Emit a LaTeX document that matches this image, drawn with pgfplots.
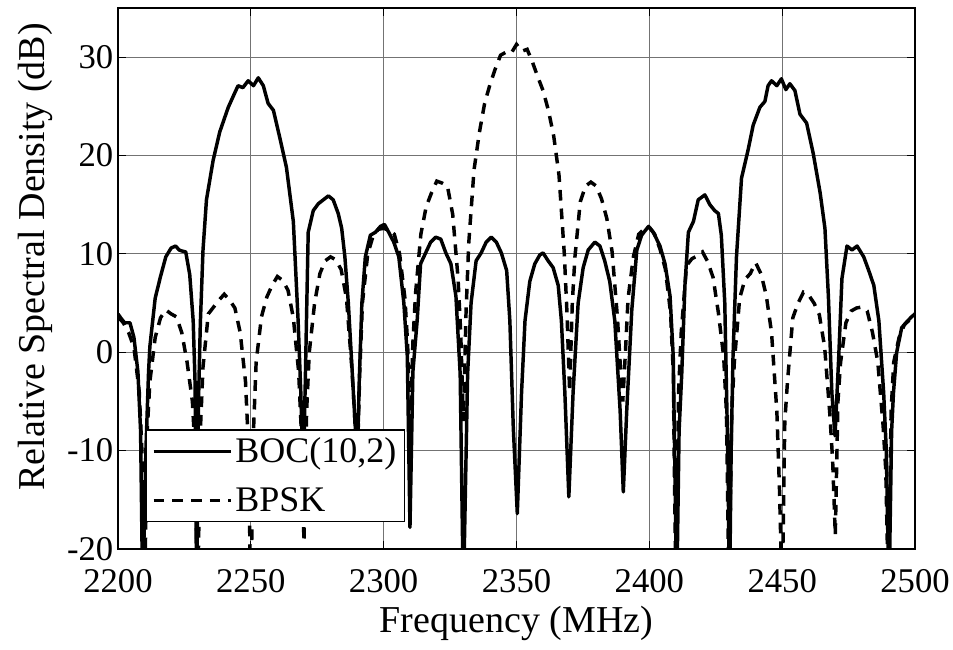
\documentclass[border=0pt]{standalone}
\usepackage{fontspec}
\setmainfont{Liberation Serif}
\usepackage{pgfplots}
\pgfplotsset{compat=1.18}
\begin{document}
\begin{tikzpicture}
\begin{axis}[
  scale only axis, width=597.75pt, height=405.75pt,
  xmin=2200, xmax=2500, ymin=-20, ymax=35,
  xtick={2200,2250,2300,2350,2400,2450,2500},
  ytick={-20,-10,0,10,20,30},
  grid=major,
  major grid style={line width=0.8pt, color=black!55},
  axis line style={line width=1.2pt, black},
  tick align=inside, major tick length=6pt,
  tick style={black, line width=0.8pt},
  /pgf/number format/assume math mode=true,
  /pgf/number format/1000 sep={},
  ticklabel style={font=\fontsize{26}{26}\selectfont},
  xticklabel style={yshift=-12pt},
  xlabel={Frequency (MHz)},
  ylabel={Relative Spectral Density (dB)},
  xlabel style={font=\fontsize{28.5}{30}\selectfont, at={(axis description cs:0.5,-0.137)}, anchor=center},
  ylabel style={font=\fontsize{28.5}{30}\selectfont, at={(axis description cs:-0.104,0.54)}, anchor=center, rotate=0},
  legend style={at={(0.0351,0.0499)}, anchor=south west, draw=black, line width=1pt, fill=white,
    font=\fontsize{27}{30}\selectfont, inner xsep=4pt, inner ysep=4pt, row sep=13pt},
  legend cell align=left,
  legend image code/.code={\draw[#1] (0pt,0pt) -- (58pt,0pt);},
]
\addplot[black, line width=2.6pt, line join=round] coordinates {
(2200,3.9)(2201,3.5)(2202.5,3.0)(2204.5,3.0)(2206,1.5)(2207.5,-2)(2208.5,-8)(2209.3,-25)
(2210.5,-10)(2211.5,-2)(2212,0.6)(2214,5.5)(2216,7.7)(2218,9.7)(2220,10.6)(2221.7,10.8)
(2223,10.4)(2224,10.3)(2225.5,10.2)(2227,7.9)(2228.3,3.2)(2229,-3)(2229.6,-25)
(2230.3,-5)(2231,3)(2232,10.4)(2233.3,15.5)(2235.8,19.5)(2238.3,22.4)(2241.5,24.9)
(2244,26.4)(2245.2,27.1)(2247,26.9)(2249,27.6)(2251,27.1)(2252.8,27.9)(2254.7,27.1)
(2256.5,25.3)(2258.5,24.6)(2261,21.7)(2263.4,18.8)(2266,13.3)(2267.8,3.2)(2268.8,-4)
(2269.7,-13)(2270.5,-3)(2271,4)(2271.6,12.2)(2273.5,14.4)(2275.4,15.1)(2277.3,15.5)
(2279.2,15.9)(2281,15.5)(2282.9,14.1)(2284.2,12.6)(2285.4,9.7)(2286.7,5.0)(2288.6,-4.1)
(2289.4,-8)(2290,-12)(2290.8,-3)(2291.8,5.0)(2293.1,9.7)(2295,11.9)(2296.9,12.2)
(2298.8,12.8)(2300.3,13.0)(2301.9,12.2)(2303.8,11.2)(2305.7,9.7)(2307.6,5.0)(2308.9,-0.4)
(2309.9,-17.8)(2311,-2)(2312.6,3.2)(2313.9,9.0)(2315.8,10.1)(2317.7,11.2)(2319.6,11.7)
(2321.5,11.5)(2323.4,10.1)(2325.3,9.0)(2327.2,5.7)(2328.8,-2.2)(2330,-25)(2331.6,-2.2)
(2332.9,5.0)(2334.8,9.3)(2336.7,10.1)(2338.6,11.2)(2340.5,11.7)(2342.4,11.2)(2344.3,10.1)
(2346.3,8.3)(2347.5,3.2)(2348.8,-7.7)(2350.3,-16.4)(2351.9,-4.1)(2353.2,3.2)(2355,7.2)
(2356.9,9.0)(2358.8,9.9)(2360,10.1)(2361.9,9.3)(2363.8,8.6)(2365.7,6.8)(2366.9,3.2)
(2368.2,-4.1)(2369.7,-14.7)(2371.3,-4.1)(2373.2,5.0)(2375.1,8.6)(2377,10.4)(2379.5,11.2)
(2381.4,10.8)(2383.2,9.3)(2385.1,7.2)(2387,3.2)(2389,-5.9)(2390.2,-14.2)(2391.5,-5.9)
(2393.4,4.3)(2395.3,10.4)(2397.1,11.9)(2399.7,12.8)(2401.5,12.2)(2404,10.8)(2405.9,9.0)
(2407.8,5.7)(2409,-0.4)(2410.3,-25)(2411.2,-8)(2412.2,-2.2)(2413.4,6.8)(2414.7,12.2)
(2416.6,13.3)(2418.4,15.5)(2420.9,16.0)(2422.8,15.0)(2424.6,14.4)(2426,14.1)(2427.1,11.9)
(2428.4,5.0)(2429.6,-11.3)(2430.2,-25)(2430.8,-10)(2431.5,-0.4)(2432.8,9.7)(2434.7,17.7)
(2437.2,20.6)(2439.1,23.1)(2441.6,24.9)(2443.5,25.5)(2444.7,27.1)(2446,27.6)(2448,27.1)
(2449.7,27.8)(2451.4,26.7)(2452.9,27.3)(2454.8,26.6)(2456.7,24.2)(2459.2,23.3)(2461.7,20.2)
(2464.3,16.2)(2466.1,12.6)(2467.4,5.7)(2468.7,-4.1)(2469.9,-8.5)(2471.3,-0.4)(2472.5,7.5)
(2474.4,10.8)(2476.3,10.4)(2478.2,10.8)(2480.7,9.7)(2482.6,8.3)(2484.5,6.8)(2486.4,3.2)
(2488.2,-4.1)(2489.2,-10)(2490.2,-25)(2491.2,-8)(2491.9,-4.1)(2493.1,0)(2495,2.5)
(2496.9,3.1)(2498.7,3.6)(2500,3.9)
};
\addlegendentry{BOC(10,2)}
\addplot[black, line width=2.6pt, dash pattern=on 8pt off 6pt] coordinates {
(2200,3.6)(2202,3.0)(2204,2.0)(2206,0.5)(2208,-4)(2209,-10)(2210,-25)(2211,-8)(2212,-3)
(2214,1.5)(2216,3.5)(2218,4.3)(2220,3.9)(2222,3.6)(2224,2.0)(2226,-1)(2228,-5)(2229,-10)
(2230,-25)(2231,-8)(2232,-1.5)(2234,3.9)(2236,4.6)(2238,5.3)(2240,5.9)(2242,5.3)(2244,4.5)
(2246,2.0)(2248,-3)(2249,-9)(2250,-25)(2251,-8)(2252,-1)(2254,3.6)(2256,5.6)(2258,6.8)
(2260,7.7)(2262,7.3)(2264,6.3)(2266,3.5)(2268,-2)(2269,-8)(2270,-19.3)(2271,-6)(2272,0)
(2274,5.0)(2276,8.0)(2278,9.3)(2280,9.7)(2282,9.4)(2284,8.4)(2286,5.5)(2288,-1.5)(2289,-6)
(2290,-12)(2291,-2)(2292,5.0)(2294,10.0)(2296,11.8)(2298,12.5)(2300,12.6)(2302,12.4)
(2304,12.0)(2306,10.0)(2308,5.5)(2309,1)(2310,-8)(2311,1)(2312,6.0)(2314,12.0)(2316,14.8)
(2318,16.2)(2320,17.4)(2322,17.2)(2324,16.9)(2326,14.0)(2328,7.5)(2329,2)(2330,-7)(2331,4)
(2332,11.0)(2334,18.5)(2336,22.3)(2338,25.3)(2340,27.2)(2342,28.8)(2344,30.2)(2346,30.5)
(2348,30.4)(2350,31.3)(2352,30.6)(2354,30.8)(2356,29.5)(2358,28.0)(2360,26.6)(2362,24.6)
(2364,22.0)(2366,18.0)(2368,10.0)(2369,4)(2370,-4)(2371,5)(2372,9.7)(2374,15.3)(2376,16.9)
(2378,17.3)(2380,16.9)(2382,15.6)(2384,13.6)(2386,10.2)(2388,3.5)(2389,-1)(2390,-5)(2391,0)
(2392,5.5)(2394,9.7)(2396,12.0)(2398,12.5)(2400,12.7)(2402,12.0)(2404,10.5)(2406,8.5)
(2408,4.0)(2409,-2)(2410,-25)(2411,-4)(2412,2)(2414,8.8)(2416,9.5)(2418,9.8)(2420,10.2)
(2422,9.2)(2424,7.6)(2426,4.0)(2428,-0.5)(2429,-6)(2430,-25)(2431,-6)(2432,-1)(2434,5.5)
(2436,7.4)(2438,8.0)(2440,9.1)(2442,8.0)(2444,5.8)(2446,2.0)(2448,-6)(2449,-14)(2450,-25)
(2451,-7)(2452,-3)(2454,3.5)(2456,5.0)(2458,6.1)(2460,5.8)(2462,5.0)(2464,3.8)(2466,0.5)
(2468,-6.5)(2469,-11)(2470,-18.6)(2471,-5)(2472,-1)(2474,3.0)(2476,4.2)(2478,4.5)(2480,4.6)
(2482,4.2)(2484,2.0)(2486,-1)(2488,-7.5)(2489,-12)(2490,-25)(2491,-6)(2492,-1)(2494,1.5)
(2496,2.8)(2498,3.3)(2500,3.9)
};
\addlegendentry{BPSK}
\end{axis}
\pgfresetboundingbox
\path ([xshift=-88.5pt,yshift=-75.75pt]current axis.south west) rectangle ([xshift=28.5pt,yshift=6pt]current axis.north east);
\end{tikzpicture}
\end{document}
